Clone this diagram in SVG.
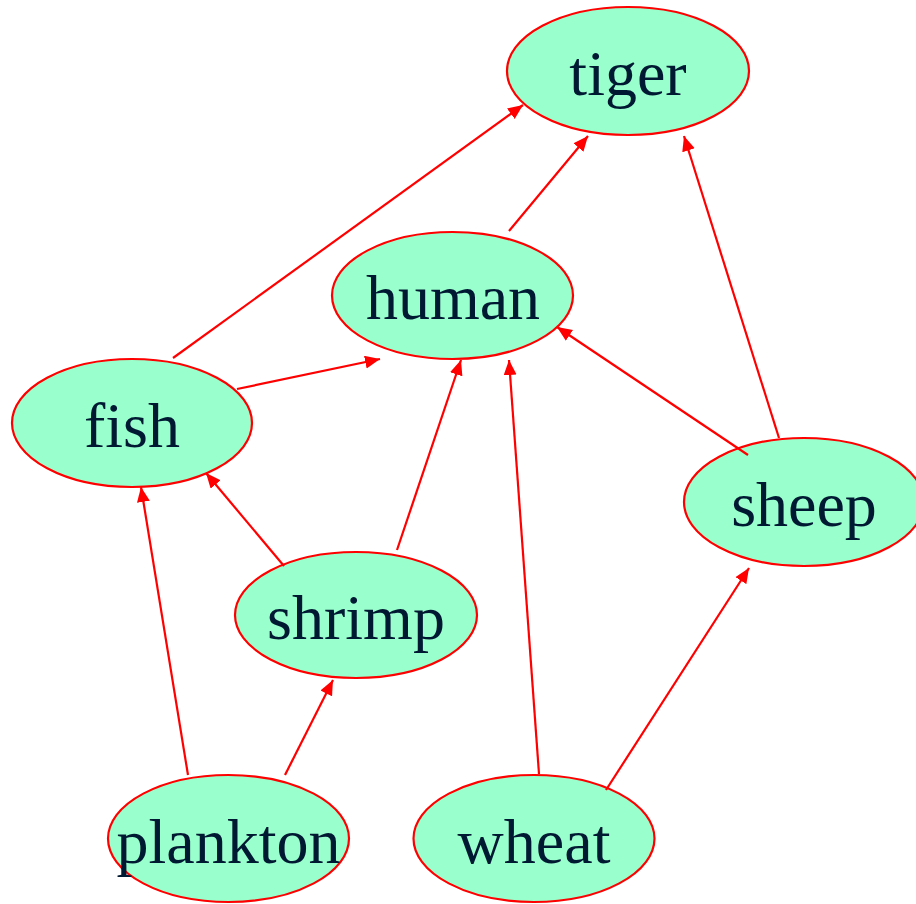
<svg xmlns="http://www.w3.org/2000/svg" width="916" height="904" viewBox="0 0 916 904">
<defs>
<style>
.n ellipse{fill:#99ffcc;stroke:#ff0000;stroke-width:2.2}
.n text{font-family:"Liberation Serif","Times New Roman",serif;font-size:64px;fill:#001933;text-anchor:middle}
.e line{stroke:#ff0000;stroke-width:2.2;marker-end:url(#ah)}
</style>
<marker id="ah" markerUnits="userSpaceOnUse" markerWidth="16" markerHeight="14" refX="15" refY="6.5" orient="auto">
<path d="M0,0 L15,6.5 L0,13 z" fill="#ff0000"/>
</marker>
</defs>
<g id="tiger" class="n"><ellipse cx="628" cy="71" rx="121" ry="64"/><text x="628" y="95">tiger</text></g>
<g id="human" class="n"><ellipse cx="452.5" cy="295.5" rx="120.5" ry="63.5"/><text x="453" y="319">human</text></g>
<g id="fish" class="n"><ellipse cx="132" cy="423" rx="120" ry="64"/><text x="132" y="447">fish</text></g>
<g id="sheep" class="n"><ellipse cx="804" cy="502" rx="120" ry="64"/><text x="804" y="526">sheep</text></g>
<g id="shrimp" class="n"><ellipse cx="356" cy="615" rx="121" ry="63"/><text x="356" y="639">shrimp</text></g>
<g id="plankton" class="n"><ellipse cx="228.5" cy="838.5" rx="120.5" ry="63.5"/><text x="228.5" y="863">plankton</text></g>
<g id="wheat" class="n"><ellipse cx="534" cy="838.5" rx="120.5" ry="63.5"/><text x="534" y="863">wheat</text></g>
<g id="connectors" class="e">
<line x1="173" y1="358" x2="523" y2="105"/>
<line x1="509" y1="231" x2="588" y2="136"/>
<line x1="779" y1="438" x2="684" y2="136"/>
<line x1="237" y1="389" x2="380" y2="359"/>
<line x1="397" y1="550" x2="461" y2="360"/>
<line x1="539" y1="774" x2="509" y2="360"/>
<line x1="748" y1="455" x2="557" y2="327"/>
<line x1="284" y1="566" x2="206" y2="473"/>
<line x1="188" y1="775" x2="141" y2="487"/>
<line x1="285" y1="775" x2="333" y2="680"/>
<line x1="606" y1="790" x2="749" y2="568"/>
</g>
</svg>
